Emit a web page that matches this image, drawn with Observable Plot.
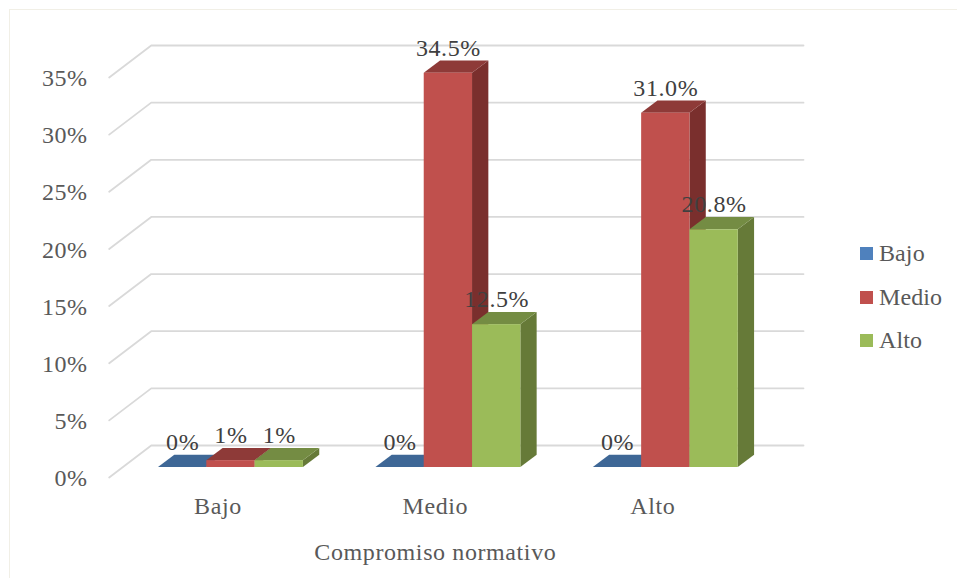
<!DOCTYPE html>
<html lang="es">
<head>
<meta charset="utf-8">
<script src="https://cdn.jsdelivr.net/npm/d3@7"></script>
<script src="https://cdn.jsdelivr.net/npm/@observablehq/plot@0.6"></script>
<style>
  html, body { margin: 0; padding: 0; background: #fff; }
  #wrap { position: relative; width: 957px; height: 578px; overflow: hidden; }
  #frame { position: absolute; left: 9px; top: 9px; right: -4px; bottom: -4px; border: 1px solid #f1efe6; }
  #legend { position: absolute; left: 860px; top: 242px; font: 24px "Liberation Serif", serif; color: #595959; letter-spacing: .1px; }
  .row { position: absolute; left: 0; height: 26px; line-height: 26px; white-space: nowrap; }
  .row i { position: absolute; left: 0; top: 5px; width: 13px; height: 13px; }
  .row span { position: absolute; left: 19px; top: -2px; }
  svg { position: absolute; left: 0; top: 0; }
</style>
</head>
<body>
<div id="wrap"><div id="frame"></div><div id="legend"></div></div>
<script>
const categories = ["Bajo", "Medio", "Alto"];
const seriesNames = ["Bajo", "Medio", "Alto"];
const valuesBajo = [0, 0, 0];
const valuesMedio = [0.6, 34.5, 31.0];
const valuesAlto = [0.6, 12.5, 20.8];
const labelsBajo = ["0%", "0%", "0%"];
const labelsMedio = ["1%", "34.5%", "31.0%"];
const labelsAlto = ["1%", "12.5%", "20.8%"];
const yTicks = [0, 5, 10, 15, 20, 25, 30, 35];
const axisTitle = "Compromiso normativo";

const legendColors = ["#4F81BD", "#C0504D", "#9BBB59"];
const frontColors = ["#4F81BD", "#C0504D", "#9BBB59"];
const topColors = ["#3E6796", "#8E3A38", "#748C43"];
const sideColors = ["#335478", "#7A2F2D", "#667A38"];

// 3-D geometry in data units: x in categories, y in percent
const wallDx = 0.1933, wallDy = 2.8;   // floor depth
const barOffX = 0.06, barOffY = 0.875; // bar front from floor front
const barDx = 0.075, barDy = 1.07;     // bar depth
const barW = 0.2222, gap = 0.1667;

const fontFamily = '"Liberation Serif", serif';
const seriesValues = [valuesBajo, valuesMedio, valuesAlto];
const seriesLabels = [labelsBajo, labelsMedio, labelsAlto];

const bars = [];
categories.forEach((c, ci) => seriesNames.forEach((s, si) => {
  const x0 = ci + gap + si * barW + barOffX;
  bars.push({
    x0, x1: x0 + barW,
    base: barOffY, top: barOffY + seriesValues[si][ci],
    si, label: seriesLabels[si][ci]
  });
}));

const gridMarks = yTicks.map(t => Plot.line(
  [{x: 0, y: t}, {x: wallDx, y: t + wallDy}, {x: 3 + wallDx, y: t + wallDy}],
  {x: "x", y: "y", stroke: "#d9d9d9", strokeWidth: 1.8, curve: "linear"}
));

const barMarks = bars.flatMap(b => [
  Plot.area(
    [{x: b.x1, y1: b.base, y2: b.top}, {x: b.x1 + barDx, y1: b.base + barDy, y2: b.top + barDy}],
    {x1: "x", y1: "y1", y2: "y2", fill: sideColors[b.si], curve: "linear"}
  ),
  Plot.area(
    [
      {x: b.x0, y1: b.top, y2: b.top},
      {x: b.x0 + barDx, y1: b.top, y2: b.top + barDy},
      {x: b.x1, y1: b.top, y2: b.top + barDy},
      {x: b.x1 + barDx, y1: b.top + barDy, y2: b.top + barDy}
    ],
    {x1: "x", y1: "y1", y2: "y2", fill: topColors[b.si], curve: "linear"}
  ),
  Plot.rect([b], {x1: "x0", x2: "x1", y1: "base", y2: "top", fill: frontColors[b.si], inset: 0})
]);

const chart = Plot.plot({
  width: 957,
  height: 578,
  marginLeft: 108.7,
  marginRight: 154,
  marginTop: 45,
  marginBottom: 101,
  style: {background: "transparent", fontFamily, fontSize: "24px", letterSpacing: ".6px", overflow: "visible"},
  x: {domain: [0, 3 + wallDx], axis: null},
  y: {domain: [0, 35 + wallDy], axis: null},
  marks: [
    ...gridMarks,
    ...barMarks,
    Plot.axisY({ticks: yTicks, tickSize: 0, tickPadding: 21.5, dy: 1, fill: "#595959", fontSize: 24, label: null, tickFormat: d => d + "%"}),
    Plot.axisX({ticks: [0.5, 1.5, 2.5], tickSize: 0, tickPadding: 19, fill: "#595959", fontSize: 24, label: null, tickFormat: d => categories[Math.floor(d)]}),
    Plot.text([axisTitle], {x: () => 1.5, frameAnchor: "bottom", dy: 82, text: d => d, fill: "#595959", fontSize: 24}),
    Plot.text(bars, {
      x: b => (b.x0 + b.x1) / 2,
      y: b => b.top + barDy,
      text: "label",
      dy: -13,
      fill: "#404040",
      fontSize: 24
    })
  ]
});
document.getElementById("wrap").appendChild(chart);

const legend = document.getElementById("legend");
seriesNames.forEach((s, i) => {
  const r = document.createElement("div");
  r.className = "row";
  r.style.top = (i * 43.7) + "px";
  r.innerHTML = `<i style="background:${legendColors[i]}"></i><span>${s}</span>`;
  legend.appendChild(r);
});
document.getElementById("wrap").appendChild(legend);
</script>
</body>
</html>
